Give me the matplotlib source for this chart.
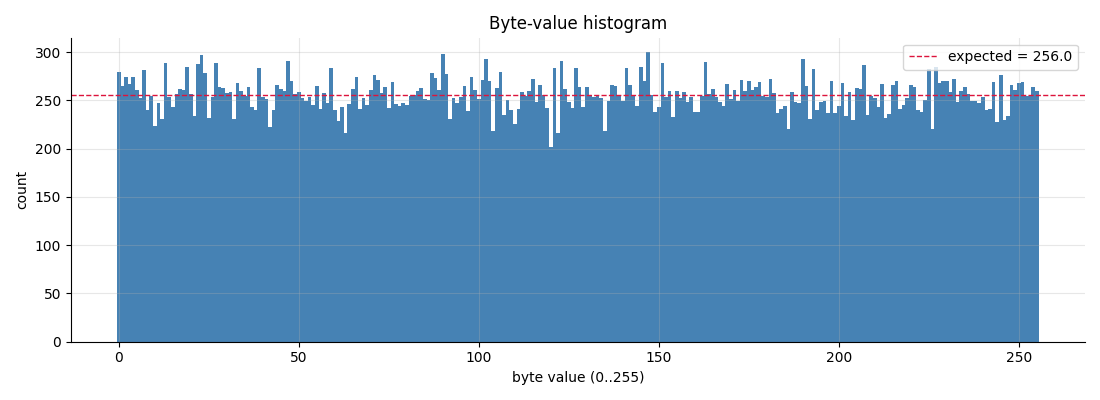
import numpy as np
import matplotlib
matplotlib.use("Agg")
import matplotlib.pyplot as plt

# counts per byte value
counts_0_63 = [
    279, 265, 274, 267, 274, 261, 252, 281, 240, 254, 223, 247, 231, 289, 253, 243,
    257, 262, 261, 285, 257, 234, 288, 297, 278, 232, 253, 289, 264, 263, 258, 259,
    231, 268, 260, 255, 264, 243, 240, 283, 253, 251, 222, 240, 266, 262, 260, 291,
    270, 257, 259, 252, 249, 253, 245, 265, 241, 258, 247, 283, 240, 229, 243, 216,
]
counts_64_127 = [
    246, 262, 274, 241, 252, 245, 261, 276, 271, 258, 264, 242, 269, 246, 244, 247,
    245, 254, 256, 260, 263, 251, 250, 278, 273, 261, 298, 277, 231, 252, 247, 253,
    265, 239, 274, 261, 251, 271, 293, 270, 218, 263, 279, 235, 250, 240, 225, 241,
    259, 254, 260, 272, 248, 266, 256, 242, 202, 284, 216, 291, 262, 248, 242, 283,
]
counts_128_191 = [
    264, 243, 264, 256, 253, 256, 252, 218, 249, 266, 265, 256, 249, 283, 266, 256,
    244, 285, 270, 300, 256, 238, 243, 289, 253, 260, 233, 260, 252, 259, 248, 253,
    238, 238, 254, 290, 257, 262, 253, 248, 244, 267, 251, 261, 249, 271, 260, 270,
    261, 264, 269, 254, 253, 272, 258, 237, 241, 244, 220, 259, 248, 247, 293, 265,
]
counts_192_255 = [
    231, 282, 240, 248, 249, 237, 270, 237, 244, 268, 234, 259, 230, 263, 262, 287,
    235, 254, 252, 243, 267, 232, 236, 266, 270, 241, 245, 252, 266, 264, 240, 238,
    250, 282, 220, 285, 268, 270, 270, 259, 272, 248, 260, 264, 257, 249, 249, 247,
    253, 240, 241, 269, 228, 276, 230, 234, 266, 261, 268, 269, 254, 254, 264, 260,
]
counts = counts_0_63 + counts_64_127 + counts_128_191 + counts_192_255
byte_values = np.arange(256)
expected = 256.0


def main():
    fig, ax = plt.subplots(figsize=(11, 4), dpi=100)
    ax.bar(byte_values, counts, width=1.0, color="steelblue")
    ax.axhline(expected, color="crimson", linestyle="--", linewidth=1,
               label=f"expected = {expected:.1f}")
    ax.set_title("Byte-value histogram")
    ax.set_xlabel("byte value (0..255)")
    ax.set_ylabel("count")
    ax.grid(alpha=0.3)
    ax.spines["top"].set_visible(False)
    ax.spines["right"].set_visible(False)
    ax.legend(loc="upper right")
    fig.subplots_adjust(left=0.0645, right=0.986, top=0.906, bottom=0.146)
    fig.savefig("out.png", dpi=100)
    plt.close(fig)


if __name__ == "__main__":
    main()
